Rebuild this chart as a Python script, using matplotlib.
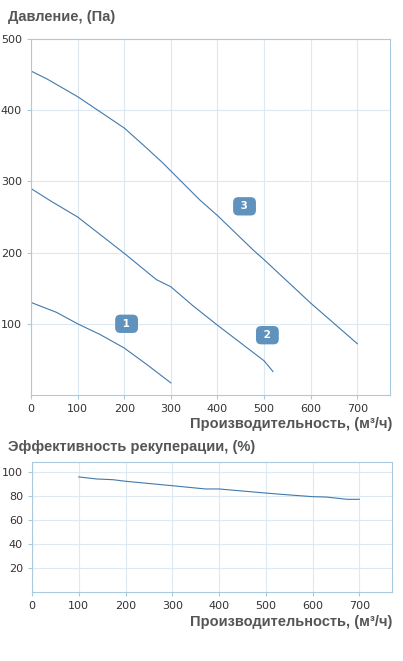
import matplotlib
matplotlib.use("Agg")
import matplotlib.pyplot as plt

# Pressure curves (x: м³/ч, y: Па)
c1_x = [0, 55, 100, 148, 200, 248, 300]
c1_y = [130, 116, 100, 85, 66, 43, 17]
c2_x = [0, 41, 100, 200, 269, 300, 348, 400, 448, 500, 519]
c2_y = [290, 273, 250, 199, 162, 152, 125, 98, 74, 48, 33]
c3_x = [0, 34, 100, 200, 241, 281, 362, 400, 476, 500, 600, 700]
c3_y = [455, 444, 419, 375, 351, 327, 274, 252, 204, 190, 129, 72]
labels = ["1", "2", "3"]
label_x = [205, 507, 458]
label_y = [100, 84, 265]

# Efficiency curve
eff_x = [100, 138, 173, 200, 300, 371, 400, 500, 545, 600, 629, 674, 700]
eff_y = [95.6, 93.9, 93.3, 92.0, 88.3, 85.6, 85.6, 82.2, 80.8, 79.2, 78.9, 77.0, 77.0]

x_ticks = [0, 100, 200, 300, 400, 500, 600, 700]
p_ticks = [100, 200, 300, 400, 500]
e_ticks = [20, 40, 60, 80, 100]

W, H = 403, 661
fig = plt.figure(figsize=(W / 100, H / 100), dpi=100)
fig.patch.set_facecolor("white")

line_c = "#4279ab"
grid_c = "#dce9f2"
spine_c = "#a9c9df"
title_c = "#555555"
tick_c = "#333333"
box_c = "#5f93bd"

def style(ax):
    for s in ax.spines.values():
        s.set_color(spine_c)
        s.set_linewidth(0.8)
    ax.grid(True, color=grid_c, linewidth=0.8)
    ax.set_axisbelow(True)
    ax.tick_params(axis="both", colors=spine_c, length=3, width=0.8,
                   labelcolor=tick_c, labelsize=8)
    for lab in ax.get_xticklabels() + ax.get_yticklabels():
        lab.set_family("DejaVu Sans")

ax1 = fig.add_axes([31 / W, (H - 395) / H, (390 - 31) / W, (395 - 39) / H])
ax1.plot(c1_x, c1_y, color=line_c, lw=0.8)
ax1.plot(c2_x, c2_y, color=line_c, lw=0.8)
ax1.plot(c3_x, c3_y, color=line_c, lw=0.8)
ax1.set_xlim(0, 770)
ax1.set_ylim(0, 500)
ax1.set_xticks(x_ticks)
ax1.set_yticks(p_ticks)
style(ax1)
for t, lx, ly in zip(labels, label_x, label_y):
    ax1.text(lx, ly, " " + t + " ", ha="center", va="center", color="white",
             fontsize=7.5, fontweight="bold", family="DejaVu Sans",
             bbox=dict(boxstyle="round,pad=0.4,rounding_size=0.5",
                       fc=box_c, ec="none"))

ax2 = fig.add_axes([32 / W, (H - 592) / H, (392 - 32) / W, (592 - 462) / H])
ax2.plot(eff_x, eff_y, color=line_c, lw=0.8)
ax2.set_xlim(0, 770)
ax2.set_ylim(0, 108)
ax2.set_xticks(x_ticks)
ax2.set_yticks(e_ticks)
style(ax2)

tfont = dict(family="Liberation Sans", fontweight="bold", color=title_c, fontsize=10.5)
fig.text(8 / W, 1 - 17 / H, "Давление, (Па)", ha="left", va="center", **tfont)
fig.text(392 / W, 1 - 424 / H, "Производительность, (м³/ч)", ha="right", va="center", **tfont)
fig.text(8 / W, 1 - 447 / H, "Эффективность рекуперации, (%)", ha="left", va="center", **tfont)
fig.text(392 / W, 1 - 622 / H, "Производительность, (м³/ч)", ha="right", va="center", **tfont)

fig.savefig("out.png", dpi=100, facecolor="white")
